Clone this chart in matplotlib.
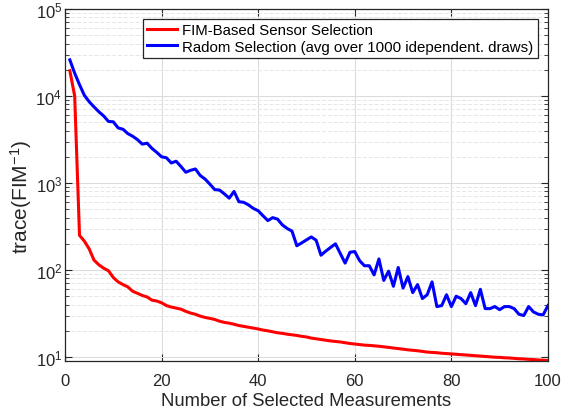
import matplotlib
matplotlib.use("Agg")
import matplotlib.pyplot as plt
from matplotlib.ticker import LogLocator, NullFormatter, FixedLocator

plt.rcParams['font.family'] = ['Liberation Sans', 'DejaVu Sans']
plt.rcParams['mathtext.fontset'] = 'custom'
plt.rcParams['mathtext.rm'] = 'Liberation Sans'
plt.rcParams['mathtext.it'] = 'Liberation Sans:italic'

# Number of selected measurements
n_meas = list(range(1, 101))

# trace(FIM^-1) for FIM-based greedy sensor selection
fim_based = [
    19500, 10000, 250, 215, 175, 130, 115, 105, 98, 82,
    73, 68, 64, 57, 54, 51, 49, 45, 44, 42,
    39, 37.5, 36.5, 35.5, 33.5, 32, 31, 29.5, 28.5, 27.8,
    27, 25.8, 25, 24.5, 23.8, 23, 22.5, 22, 21.5, 21,
    20.4, 20, 19.5, 19, 18.7, 18.3, 18, 17.7, 17.3, 17,
    16.5, 16.2, 15.9, 15.6, 15.3, 15.1, 14.9, 14.6, 14.3, 14.1,
    13.9, 13.7, 13.6, 13.45, 13.3, 13.1, 12.9, 12.7, 12.5, 12.3,
    12.1, 11.95, 11.8, 11.6, 11.4, 11.3, 11.2, 11.05, 10.95, 10.85,
    10.75, 10.65, 10.55, 10.45, 10.35, 10.25, 10.15, 10.05, 9.95, 9.9,
    9.8, 9.75, 9.65, 9.55, 9.5, 9.4, 9.35, 9.25, 9.2, 9.1,
]

# trace(FIM^-1) for random selection, averaged over 1000 draws
random_sel = [
    26000, 18300, 13500, 10200, 8600, 7500, 6600, 5900, 5100, 5050,
    4300, 4150, 3700, 3450, 3150, 2800, 2870, 2500, 2250, 2000,
    1950, 1700, 1780, 1550, 1330, 1400, 1450, 1220, 1110, 970,
    840, 830, 750, 670, 800, 610, 600, 560, 510, 480,
    420, 370, 400, 385, 330, 300, 280, 190, 205, 222,
    240, 220, 148, 165, 182, 200, 155, 120, 160, 163,
    128, 112, 112, 88, 134, 76, 97, 65, 107, 62,
    84, 55, 68, 47, 52, 73, 38, 39, 52, 38,
    50, 47, 41, 55, 39, 60, 36, 36, 38, 35,
    38, 38, 36, 31, 30, 38, 33, 31, 30.5, 39,
]

series_labels = [
    'FIM-Based Sensor Selection',
    'Radom Selection (avg over 1000 idependent. draws)',
]
x_ticks = [0, 20, 40, 60, 80, 100]

dark = '#262626'
fig = plt.figure(figsize=(5.62, 4.14), dpi=100)
ax = fig.add_axes([0.1157, 0.1256, 0.8593, 0.8502])

ax.semilogy(n_meas, fim_based, color=(1, 0, 0), lw=2.2, label=series_labels[0])
ax.semilogy(n_meas, random_sel, color=(0, 0, 1), lw=2.2, label=series_labels[1])

ax.set_xlim(0, 100)
ax.set_ylim(9, 1e5)
ax.xaxis.set_major_locator(FixedLocator(x_ticks))
ax.yaxis.set_major_locator(LogLocator(base=10, numticks=10))
ax.yaxis.set_minor_locator(LogLocator(base=10, subs=range(2, 10), numticks=20))
ax.yaxis.set_minor_formatter(NullFormatter())

ax.grid(True, which='major', color='#dcdcdc', lw=0.8, ls='-')
ax.grid(True, which='minor', axis='y', color='#e6e6e6', lw=0.7, ls=(0, (4, 2)))
ax.set_axisbelow(True)

for sp in ax.spines.values():
    sp.set_color(dark)
    sp.set_linewidth(0.9)
ax.tick_params(which='both', direction='in', top=True, right=True,
               colors=dark, labelsize=12, labelcolor=dark)
ax.tick_params(which='major', length=5, width=0.8)
ax.tick_params(which='minor', length=2.8, width=0.6)
ax.tick_params(axis='x', pad=8.5)
ax.tick_params(axis='y', pad=2)

ax.set_xlabel('Number of Selected Measurements', fontsize=13.3, color=dark, labelpad=3)
ax.set_ylabel('trace(FIM$^{-1}$)', fontsize=15, color=dark)
ax.yaxis.set_label_coords(-0.064, 0.468)

leg = ax.legend(loc='upper right', fontsize=10.8, frameon=True, fancybox=False,
                edgecolor=dark, framealpha=1, handlelength=2.0, handletextpad=0.35,
                borderpad=0.3, labelspacing=0.15, borderaxespad=0.65)
leg.get_frame().set_linewidth(0.9)

fig.savefig('out.png', dpi=100)
